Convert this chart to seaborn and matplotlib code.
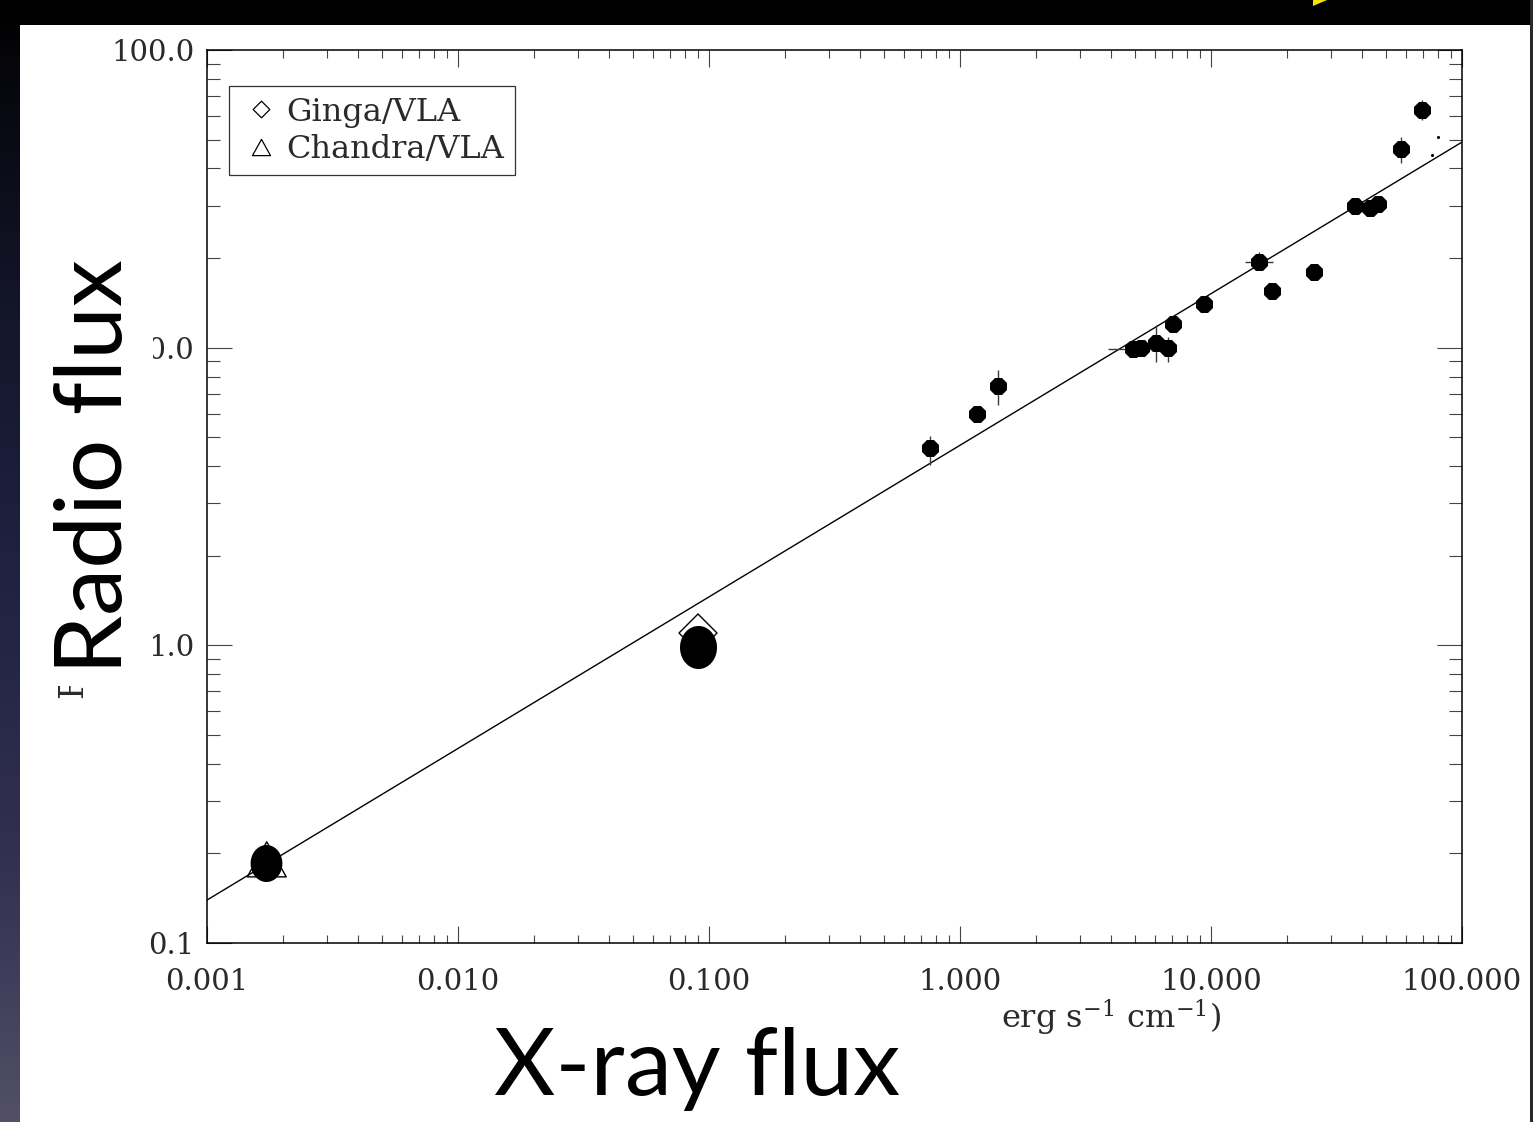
import numpy as np
import matplotlib
matplotlib.use("Agg")
import matplotlib.pyplot as plt
import seaborn as sns
from matplotlib.path import Path
from matplotlib.patches import Rectangle, Polygon
from matplotlib.lines import Line2D
from matplotlib.colors import LinearSegmentedColormap
from matplotlib.ticker import LogLocator, NullFormatter

# ---------------- data ----------------
# main sample (filled points)
xray_flux = [0.759, 1.17, 1.42, 4.89, 5.26, 6.04, 6.74, 7.06, 9.38,
             15.5, 17.5, 25.7, 37.5, 43.0, 46.3, 57.1, 69.3]
radio_flux = [4.60, 5.98, 7.43, 9.89, 10.0, 10.4, 9.98, 12.0, 14.0,
              19.4, 15.5, 17.9, 29.9, 29.4, 30.4, 46.5, 62.8]

# vertical error bars
yerr_x = [0.759, 1.42, 6.04, 6.74, 15.5, 57.1, 69.3]
yerr_y = [4.60, 7.43, 10.4, 9.98, 19.4, 46.5, 62.8]
yerr_lo = [4.03, 6.42, 8.95, 8.95, 18.2, 41.7, 58.2]
yerr_hi = [5.05, 8.41, 11.9, 10.9, 20.9, 50.9, 67.9]

# horizontal error bars
xerr_x = [4.89, 15.5]
xerr_y = [9.89, 19.4]
xerr_lo = [3.89, 13.6]
xerr_hi = [5.71, 17.7]

# large faint-state points
big1_x, big1_y = [0.00172], [0.186]
big2_x, big2_y = [0.0904], [0.99]

# Ginga/VLA (diamond) and Chandra/VLA (triangle)
ginga_x, ginga_y = [0.0904], [1.10]
chandra_x, chandra_y = [0.00173], [0.191]

# tiny points near upper right
tiny_x = [80.2, 75.9]
tiny_y = [50.9, 44.4]

# fitted power law (endpoints)
fit_x = [0.001, 100.0]
fit_y = [0.1394, 49.05]

xticks = [0.001, 0.01, 0.1, 1.0, 10.0, 100.0]
xticklabels = ["0.001", "0.010", "0.100", "1.000", "10.000", "100.000"]
yticks = [0.1, 1.0, 10.0, 100.0]
yticklabels = ["0.1", "1.0", "10.0", "100.0"]

# ---------------- style ----------------
sns.set_theme(style="ticks")
plt.rcParams["font.family"] = ["DejaVu Serif"]
plt.rcParams["mathtext.fontset"] = "dejavuserif"

W, H = 1533, 1122
fig = plt.figure(figsize=(W / 100, H / 100), dpi=100, facecolor="white")

def fx(px):
    return px / W

def fy(py):
    return 1 - py / H

ax = fig.add_axes([fx(207), fy(943), fx(1462) - fx(207), fy(50) - fy(943)])
ax.set_facecolor("white")

# markers
t = np.linspace(0, 2 * np.pi, 60)
ellipse = Path(np.column_stack([0.86 * np.cos(t), np.sin(t)]), closed=True)
diamond = Path([(0, 1), (1, 0), (0, -1), (-1, 0), (0, 1)], closed=True)
triangle = Path([(-1, -0.9), (1, -0.9), (0, 0.9), (-1, -0.9)], closed=True)

# fit line
sns.lineplot(x=fit_x, y=fit_y, ax=ax, color="black", lw=1.0, zorder=2)

# error bars
yl = np.array(yerr_y) - np.array(yerr_lo)
yh = np.array(yerr_hi) - np.array(yerr_y)
ax.errorbar(yerr_x, yerr_y, yerr=[yl, yh], fmt="none", ecolor="#3a3a3a",
            elinewidth=1.0, capsize=0, zorder=2)
xl = np.array(xerr_x) - np.array(xerr_lo)
xh = np.array(xerr_hi) - np.array(xerr_x)
ax.errorbar(xerr_x, xerr_y, xerr=[xl, xh], fmt="none", ecolor="#3a3a3a",
            elinewidth=1.0, capsize=0, zorder=2)

# open symbols
sns.scatterplot(x=ginga_x, y=ginga_y, ax=ax, marker=diamond, s=750,
                facecolor="none", edgecolor="black", linewidth=1.0, zorder=3)
sns.scatterplot(x=chandra_x, y=chandra_y, ax=ax, marker=triangle, s=786,
                facecolor="none", edgecolor="black", linewidth=1.0, zorder=3)

# filled points
sns.scatterplot(x=xray_flux, y=radio_flux, ax=ax, marker="8", s=175,
                color="black", edgecolor="black", linewidth=0, zorder=4)
sns.scatterplot(x=big1_x, y=big1_y, ax=ax, marker=ellipse, s=709,
                color="black", edgecolor="black", linewidth=0, zorder=4)
sns.scatterplot(x=big2_x, y=big2_y, ax=ax, marker=ellipse, s=961,
                color="black", edgecolor="black", linewidth=0, zorder=4)
sns.scatterplot(x=tiny_x, y=tiny_y, ax=ax, marker="o", s=5,
                color="black", edgecolor="black", linewidth=0, zorder=4)

# axes
ax.set_xscale("log")
ax.set_yscale("log")
ax.set_xlim(0.001, 100)
ax.set_ylim(0.1, 100)
ax.set_xticks(xticks, labels=xticklabels)
ax.set_yticks(yticks, labels=yticklabels)
ax.xaxis.set_minor_locator(LogLocator(base=10, subs=np.arange(2, 10)))
ax.yaxis.set_minor_locator(LogLocator(base=10, subs=np.arange(2, 10)))
ax.xaxis.set_minor_formatter(NullFormatter())
ax.yaxis.set_minor_formatter(NullFormatter())
ax.set_xlabel("")
ax.set_ylabel("")
ax.tick_params(which="both", direction="in", top=True, right=True,
               color="#444444", width=0.8, labelcolor="#2a2a2a", labelsize=21)
ax.tick_params(axis="x", which="major", length=12.2, pad=18)
ax.tick_params(axis="x", which="minor", length=6.1)
ax.tick_params(axis="y", which="major", length=18, pad=9)
ax.tick_params(axis="y", which="minor", length=9.4)
for sp in ax.spines.values():
    sp.set_color("black")
    sp.set_linewidth(1.1)
    sp.set_visible(True)

# legend
handles = [
    Line2D([], [], marker=diamond, linestyle="none", markersize=12,
           markerfacecolor="none", markeredgecolor="black", markeredgewidth=0.9),
    Line2D([], [], marker=triangle, linestyle="none", markersize=13,
           markerfacecolor="none", markeredgecolor="black", markeredgewidth=0.9),
]
leg = ax.legend(handles, ["Ginga/VLA", "Chandra/VLA"], loc="upper left",
                bbox_to_anchor=((229 - 207) / 1255, (943 - 86) / 893),
                borderaxespad=0, fontsize=23, frameon=True, fancybox=False,
                edgecolor="black", borderpad=0.33, handlelength=1.35,
                handletextpad=0.12, labelspacing=0.2, labelcolor="#2a2a2a")
leg.get_frame().set_linewidth(0.9)

# ---------------- slide overlay ----------------
# left gradient strip
grad_ax = fig.add_axes([0, 0, fx(20), 1])
cmap = LinearSegmentedColormap.from_list(
    "slide", [(0, "#000000"), (0.06, "#06060c"), (0.3, "#15172d"),
              (0.55, "#212445"), (0.78, "#343152"), (1.0, "#524f67")])
grad_ax.imshow(np.linspace(0, 1, 256).reshape(-1, 1), aspect="auto", cmap=cmap)
grad_ax.set_axis_off()

fig.add_artist(Rectangle((0, fy(25)), 1, 25 / H, transform=fig.transFigure,
                         facecolor="black", edgecolor="none", zorder=6))
fig.add_artist(Rectangle((fx(1530), 0), 3 / W, 1, transform=fig.transFigure,
                         facecolor="#2a2a2a", edgecolor="none", zorder=6))
fig.add_artist(Polygon([(fx(1313), fy(0)), (fx(1327), fy(0)), (fx(1313), fy(6))],
                       closed=True, transform=fig.transFigure,
                       facecolor="#f2e600", edgecolor="none", zorder=7))

# remnant of original y label
fig.text(fx(82), fy(698), "F", rotation=90, rotation_mode="anchor",
         ha="left", va="baseline", fontsize=24, color="#2a2a2a",
         family="DejaVu Serif", zorder=3)
# white box behind big y label
fig.add_artist(Rectangle((fx(20), fy(686)), fx(153) - fx(20), (686 - 240) / H,
                         transform=fig.transFigure, facecolor="white",
                         edgecolor="none", zorder=4))
fig.text(fx(122), fy(467), "Radio flux", rotation=90, rotation_mode="anchor",
         ha="center", va="baseline", fontsize=68, family="Lato",
         color="black", zorder=5)

# remnant of original x label
fig.text(fx(1001), fy(1029), r"erg s$^{-1}$ cm$^{-1}$)", ha="left",
         va="baseline", fontsize=23, color="#2a2a2a", family="DejaVu Serif",
         zorder=3)
fig.text(fx(697), fy(1095), "X-ray flux", ha="center", va="baseline",
         fontsize=68, family="Lato", color="black", zorder=5)

fig.savefig("out.png", dpi=100, facecolor="white")
